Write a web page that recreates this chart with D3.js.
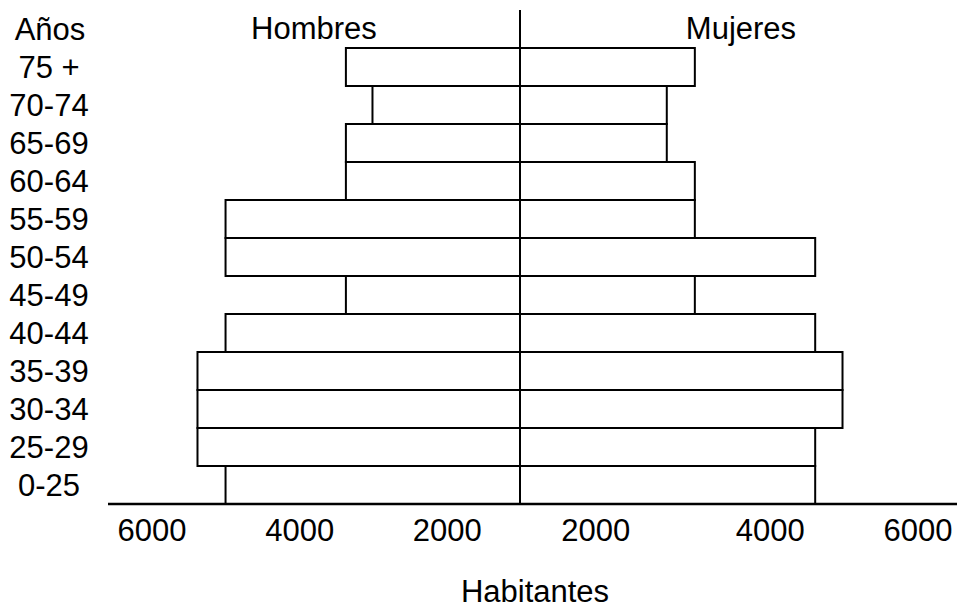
<!DOCTYPE html>
<html>
<head>
<meta charset="utf-8">
<script src="https://cdn.jsdelivr.net/npm/d3@7/dist/d3.min.js"></script>
<style>
  html, body { margin: 0; padding: 0; background: #fff; }
  svg text { font-family: "Liberation Sans", Arial, sans-serif; fill: #000; }
</style>
</head>
<body>
<svg id="chart" width="957" height="607"></svg>
<script>
// ---- data ----
const ageGroups = ["75 +", "70-74", "65-69", "60-64", "55-59", "50-54", "45-49", "40-44", "35-39", "30-34", "25-29", "0-25"];
const hombres   = [3340, 2980, 3340, 3340, 4970, 4970, 3340, 4970, 5350, 5350, 5350, 4970];
const mujeres   = [3350, 2970, 2970, 3350, 3350, 4980, 3350, 4980, 5350, 5350, 4980, 4980];
const tickValues = [2000, 4000, 6000];
const sideLabels = ["Hombres", "Mujeres"];
const rowTitle = "Años";
const axisTitle = "Habitantes";

// ---- layout ----
const svg = d3.select("#chart");
const cx = 520;          // centre line
const plotTop = 48, plotBottom = 504;
const fontSize = 31;

// distance from centre line for a value
const dist = d3.scaleLinear().domain([0, 6000]).range([-72.5, 370.5]);
const xLeft  = v => cx - dist(v);
const xRight = v => cx + dist(v);

const y = d3.scaleBand().domain(ageGroups).range([plotTop, plotBottom]).padding(0);

// bars - men (left)
svg.append("g").selectAll("rect")
  .data(ageGroups.map((g, i) => ({g, v: hombres[i]})))
  .join("rect")
  .attr("x", d => xLeft(d.v))
  .attr("y", d => y(d.g))
  .attr("width", d => cx - xLeft(d.v))
  .attr("height", y.bandwidth())
  .attr("fill", "#fff").attr("stroke", "#000").attr("stroke-width", 2);

// bars - women (right)
svg.append("g").selectAll("rect")
  .data(ageGroups.map((g, i) => ({g, v: mujeres[i]})))
  .join("rect")
  .attr("x", cx)
  .attr("y", d => y(d.g))
  .attr("width", d => xRight(d.v) - cx)
  .attr("height", y.bandwidth())
  .attr("fill", "#fff").attr("stroke", "#000").attr("stroke-width", 2);

// centre line
svg.append("line")
  .attr("x1", cx).attr("x2", cx).attr("y1", 10).attr("y2", plotBottom)
  .attr("stroke", "#000").attr("stroke-width", 2);

// x axis line
svg.append("line")
  .attr("x1", 108).attr("x2", 957).attr("y1", plotBottom).attr("y2", plotBottom)
  .attr("stroke", "#000").attr("stroke-width", 2.6);

// axis tick labels (left and right)
const leftScale  = d3.scaleLinear().domain([0, 6000]).range([cx - dist(0), cx - dist(6000)]);
const rightScale = d3.scaleLinear().domain([0, 6000]).range([cx + dist(0), cx + dist(6000)]);
const axL = svg.append("g").attr("transform", `translate(2,${plotBottom})`)
  .call(d3.axisBottom(leftScale).tickValues(tickValues).tickSize(0).tickPadding(37).tickFormat(d3.format("d")));
const axR = svg.append("g").attr("transform", `translate(0,${plotBottom})`)
  .call(d3.axisBottom(rightScale).tickValues(tickValues).tickSize(0).tickPadding(37).tickFormat(d3.format("d")));
[axL, axR].forEach(a => {
  a.select(".domain").remove();
  a.selectAll("text").attr("font-size", fontSize).attr("dy", 0)
    .style("font-family", "'Liberation Sans', Arial, sans-serif").attr("fill", "#000");
});
axR.selectAll(".tick").filter(d => d > 2000).select("text").attr("dx", 27);

// age labels
svg.append("g").selectAll("text")
  .data(ageGroups)
  .join("text")
  .attr("x", 49)
  .attr("y", d => y(d) + y.bandwidth() / 2)
  .attr("dy", "0.36em")
  .attr("text-anchor", "middle")
  .attr("font-size", fontSize)
  .text(d => d);

svg.append("text").attr("x", 50).attr("y", 40).attr("text-anchor", "middle")
  .attr("font-size", fontSize).text(rowTitle);

svg.append("text").attr("x", 314).attr("y", 39).attr("text-anchor", "middle")
  .attr("font-size", fontSize).text(sideLabels[0]);
svg.append("text").attr("x", 741).attr("y", 39).attr("text-anchor", "middle")
  .attr("font-size", fontSize).text(sideLabels[1]);

svg.append("text").attr("x", 535).attr("y", 602).attr("text-anchor", "middle")
  .attr("font-size", fontSize).text(axisTitle);
</script>
</body>
</html>
